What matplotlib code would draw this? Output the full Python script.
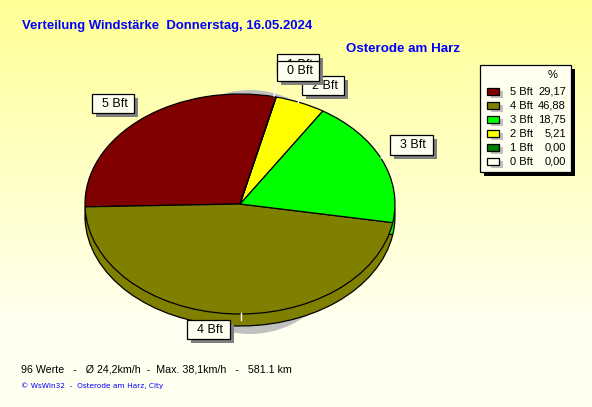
import numpy as np
import matplotlib
matplotlib.use('Agg')
import matplotlib.pyplot as plt
from matplotlib.patches import Rectangle, Ellipse

categories = ['5 Bft', '4 Bft', '3 Bft', '2 Bft', '1 Bft', '0 Bft']
values = [29.17, 46.88, 18.75, 5.21, 0.00, 0.00]
colors = ['#800000', '#808000', '#00FF00', '#FFFF00', '#008000', '#FFFFF0']
value_labels = ['29,17', '46,88', '18,75', '5,21', '0,00', '0,00']
title = 'Verteilung Windstärke  Donnerstag, 16.05.2024'
station = 'Osterode am Harz'
stats = '96 Werte   -   Ø 24,2km/h  -  Max. 38,1km/h   -   581.1 km'
credit = '© WsWin32  -  Osterode am Harz, City'

W, H = 592, 407
plt.rcParams['font.family'] = ['Liberation Sans', 'DejaVu Sans']
fig = plt.figure(figsize=(W/100, H/100), dpi=100)

# overlay axes in pixel coordinates
bg = fig.add_axes([0, 0, 1, 1], zorder=0)
bg.set_xlim(0, W); bg.set_ylim(H, 0); bg.axis('off')
top = np.array([255, 255, 150]) / 255
bot = np.array([255, 255, 240]) / 255
t = np.clip(np.linspace(0, 1, H) / 0.8, 0, 1)[:, None, None]
grad = top[None, None, :] * (1 - t) + bot[None, None, :] * t
bg.imshow(grad, extent=(0, W, H, 0), aspect='auto', interpolation='bilinear')
bg.set_xlim(0, W); bg.set_ylim(H, 0)

cx, cy, rx, ry, depth = 240, 204, 155, 110, 12
bg.add_patch(Ellipse((250, 212), 2*107, 2*122, fc='#C0C0C0', ec='none', zorder=1))

edge = dict(edgecolor='black', linewidth=0.9)
depth_ax = fig.add_axes([(cx-rx)/W, 1-(cy+depth+ry)/H, 2*rx/W, 2*ry/H], zorder=1)
depth_ax.pie(values, colors=colors, startangle=76.5, radius=1, wedgeprops=edge)
depth_ax.set_aspect('auto')
depth_ax.set_xlim(-1, 1); depth_ax.set_ylim(-1, 1)

pie_ax = fig.add_axes([(cx-rx)/W, 1-(cy+ry)/H, 2*rx/W, 2*ry/H], zorder=1.5)
pie_ax.pie(values, colors=colors, startangle=76.5, radius=1, wedgeprops=edge)
pie_ax.set_aspect('auto')
pie_ax.set_xlim(-1, 1); pie_ax.set_ylim(-1, 1)

ov = fig.add_axes([0, 0, 1, 1], zorder=2)
ov.set_xlim(0, W); ov.set_ylim(H, 0); ov.axis('off'); ov.patch.set_alpha(0)

def box(x0, y0, x1, y1, text, z):
    ov.add_patch(Rectangle((x0+4, y0+4), x1-x0, y1-y0, fc='#808080', ec='none', zorder=z))
    ov.add_patch(Rectangle((x0, y0), x1-x0, y1-y0, fc='#FFFFF0', ec='black', lw=0.9, zorder=z+0.1))
    ov.text(x0+23, (y0+y1)/2+0.5, text, ha='center', va='center', fontsize=9, color='black', zorder=z+0.2)

leaders = [((277, 81), (274, 96)), ((302, 95), (298, 103)), ((390, 155), (381, 158)), ((241, 313), (241, 320))]
for a, b in leaders:
    ov.plot([a[0], b[0]], [a[1], b[1]], color='white', lw=1, zorder=3)

boxes = {'5 Bft': (92, 94, 134, 113), '4 Bft': (187, 320, 230, 339), '3 Bft': (390, 135, 433, 155),
         '2 Bft': (302, 76, 344, 95), '1 Bft': (277, 54, 319, 74), '0 Bft': (277, 61, 319, 81)}
for i, c in enumerate(categories):
    box(*boxes[c], c, 4 + i)

ov.text(22, 25.5, title, color='#0000FF', fontsize=9.45, fontweight='bold', va='center', ha='left')
ov.text(346, 49, station, color='#0000FF', fontsize=9.6, fontweight='bold', va='center', ha='left')
ov.text(21, 369, stats, color='black', fontsize=7.65, va='center', ha='left')
ov.text(21, 386, credit, color='#0000FF', fontsize=5.3, va='center', ha='left', family=['DejaVu Sans'])

# legend
ov.add_patch(Rectangle((484, 69), 91, 107, fc='black', ec='none', zorder=20))
ov.add_patch(Rectangle((480, 65), 91, 107, fc='#FFFFF0', ec='black', lw=0.9, zorder=21))
ov.text(553, 75, '%', ha='center', va='center', fontsize=8, zorder=22)
for i, (c, col, v) in enumerate(zip(categories, colors, value_labels)):
    y = 91.5 + i*13.95
    ov.add_patch(Rectangle((491, y-0.5), 12, 7, fc='#C0C0C0', ec='none', zorder=22))
    ov.add_patch(Rectangle((487, y-3.5), 12, 7, fc=col, ec='black', lw=0.9, zorder=23))
    ov.text(510, y+0.5, c, ha='left', va='center', fontsize=8, zorder=24)
    ov.text(566, y+0.5, v, ha='right', va='center', fontsize=8, zorder=24)

fig.savefig('out.png', dpi=100)
